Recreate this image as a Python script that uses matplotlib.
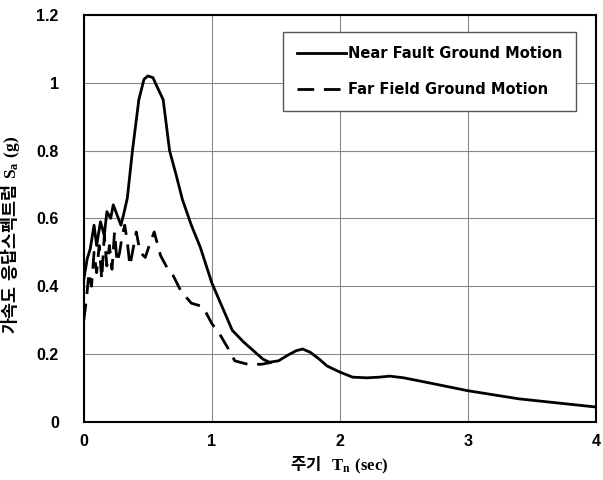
import numpy as np
import matplotlib.pyplot as plt

# near fault ground motion (period in sec, Sa in g)
near_T = [0.0, 0.026, 0.05, 0.08, 0.10, 0.13, 0.16, 0.18, 0.21, 0.23, 0.26, 0.29, 0.31,
          0.34, 0.38, 0.43, 0.47, 0.50, 0.54, 0.57, 0.62, 0.67, 0.72, 0.77, 0.84, 0.91,
          1.0, 1.08, 1.16, 1.25, 1.34, 1.40, 1.45, 1.52, 1.60, 1.66, 1.71, 1.77, 1.84,
          1.9, 2.0, 2.1, 2.21, 2.31, 2.39, 2.5, 2.7, 3.0, 3.2, 3.4, 3.7, 4.0]
near_Sa = [0.42, 0.48, 0.51, 0.58, 0.52, 0.59, 0.55, 0.62, 0.60, 0.64, 0.61, 0.58, 0.61,
           0.66, 0.80, 0.95, 1.01, 1.02, 1.015, 0.99, 0.95, 0.80, 0.73, 0.656, 0.58, 0.515,
           0.41, 0.34, 0.27, 0.235, 0.205, 0.185, 0.176, 0.18, 0.198, 0.21, 0.215, 0.205, 0.185,
           0.165, 0.147, 0.132, 0.13, 0.132, 0.135, 0.13, 0.115, 0.092, 0.08, 0.068, 0.056, 0.044]

# far field ground motion
far_T = [0.0, 0.02, 0.04, 0.06, 0.08, 0.10, 0.12, 0.14, 0.16, 0.18, 0.20, 0.22, 0.24,
         0.26, 0.28, 0.30, 0.32, 0.34, 0.36, 0.39, 0.41, 0.44, 0.48, 0.52, 0.55, 0.60,
         0.65, 0.70, 0.76, 0.84, 0.93, 1.0, 1.06, 1.13, 1.18, 1.28, 1.39, 1.47]
far_Sa = [0.30, 0.36, 0.44, 0.40, 0.50, 0.44, 0.52, 0.42, 0.55, 0.46, 0.52, 0.45, 0.56,
          0.47, 0.50, 0.55, 0.58, 0.53, 0.46, 0.52, 0.56, 0.50, 0.485, 0.53, 0.56, 0.49,
          0.455, 0.43, 0.385, 0.35, 0.34, 0.29, 0.26, 0.215, 0.18, 0.17, 0.17, 0.176]

x_ticks = [0, 1, 2, 3, 4]
y_ticks = [0, 0.2, 0.4, 0.6, 0.8, 1.0, 1.2]
y_tick_labels = ['0', '0.2', '0.4', '0.6', '0.8', '1', '1.2']

# korean text goes through the text font, T_n / (sec) through mathtext bf
plt.rcParams['mathtext.fontset'] = 'custom'
plt.rcParams['mathtext.bf'] = 'Liberation Serif:bold'
plt.rcParams['mathtext.rm'] = 'Liberation Serif'

fig = plt.figure(figsize=(6.03, 4.8), dpi=100)
ax = fig.add_axes([0.139, 0.121, 0.849, 0.848])

ax.plot(near_T, near_Sa, color='black', lw=2.0, label='Near Fault Ground Motion')
ax.plot(far_T, far_Sa, color='black', lw=2.0, linestyle=(0, (6, 3.5)),
        label='Far Field Ground Motion')

ax.set_xlim(0, 4)
ax.set_ylim(0, 1.2)
ax.set_xticks(x_ticks)
ax.set_yticks(y_ticks)
ax.set_yticklabels(y_tick_labels)
ax.grid(True, color='#888888', lw=0.8)
ax.set_axisbelow(True)
for s in ax.spines.values():
    s.set_linewidth(1.5)
ax.tick_params(length=0, labelsize=11.5)
ax.tick_params(axis='y', pad=18)
ax.tick_params(axis='x', pad=9)
for lab in ax.get_xticklabels() + ax.get_yticklabels():
    lab.set_fontweight('bold')
    lab.set_family('Liberation Sans')

ax.set_xlabel('주기$\\ \\ \\mathbf{T_n}\\ \\mathbf{(sec)}$', family='Noto Sans CJK KR',
              fontsize=12, fontweight='bold', labelpad=4)
ax.set_ylabel('가속도$\\ $응답스펙트럼$\\ \\mathbf{S_a}\\ \\mathbf{(g)}$',
              family='Noto Sans CJK KR', fontsize=12.5, fontweight='bold')
ax.yaxis.set_label_coords(-0.121, 0.46)

leg = ax.legend(loc='upper right', bbox_to_anchor=(0.961, 0.958), fancybox=False,
                edgecolor='#555555', framealpha=1, borderpad=0.95, labelspacing=1.45,
                handlelength=3.4, handletextpad=0.1, borderaxespad=0,
                prop={'family': 'DejaVu Sans', 'weight': 'bold', 'size': 10.5})
leg.get_frame().set_linewidth(1.0)

fig.savefig('out.png', dpi=100)
